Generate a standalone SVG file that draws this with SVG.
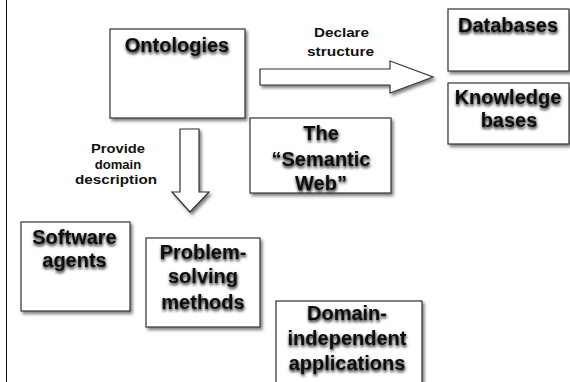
<svg xmlns="http://www.w3.org/2000/svg" width="570" height="382" viewBox="0 0 570 382">
<defs>
<filter id="bs" x="-10%" y="-10%" width="130%" height="130%">
<feDropShadow dx="2" dy="2.5" stdDeviation="1.6" flood-color="#000" flood-opacity="0.5"/>
</filter>
<filter id="ts" x="-10%" y="-30%" width="120%" height="170%">
<feDropShadow dx="0.5" dy="2" stdDeviation="1.5" flood-color="#000" flood-opacity="0.95"/>
</filter>
<style>
.box{fill:#fff;stroke:#333;stroke-width:1.2;filter:url(#bs)}
.arr{fill:#fff;stroke:#333;stroke-width:1.2;filter:url(#bs)}
.t{font-family:"Liberation Sans",Arial,sans-serif;font-weight:bold;font-size:20px;fill:#111;text-anchor:middle;filter:url(#ts)}
.s{font-family:"Liberation Sans",Arial,sans-serif;font-weight:bold;font-size:13px;fill:#111;text-anchor:middle}
</style>
</defs>
<rect width="570" height="382" fill="#fff"/>
<line x1="6.5" y1="0" x2="6.5" y2="382" stroke="#111" stroke-width="1"/>
<g id="connectors">
<g id="declare-structure">
<path class="arr" d="M260,69 L390,69 L390,61 L433,77 L390,93 L390,85 L260,85 Z"/>
<text class="s" x="341.5" y="37" textLength="55" lengthAdjust="spacingAndGlyphs">Declare</text>
<text class="s" x="340.5" y="56" textLength="67" lengthAdjust="spacingAndGlyphs">structure</text>
</g>
<g id="provide-domain">
<path class="arr" d="M180,129 L199,129 L199,192 L209,192 L190,212 L172,192 L180,192 Z"/>
<text class="s" x="118" y="153" textLength="54" lengthAdjust="spacingAndGlyphs">Provide</text>
<text class="s" x="118" y="168.5" textLength="46.5" lengthAdjust="spacingAndGlyphs">domain</text>
<text class="s" x="116" y="184" textLength="82" lengthAdjust="spacingAndGlyphs">description</text>
</g>
</g>
<g id="ontologies">
<rect class="box" x="110" y="29" width="135" height="89"/>
<text class="t" x="177" y="52">Ontologies</text>
</g>
<g id="databases">
<rect class="box" x="448" y="9" width="121" height="62"/>
<text class="t" x="508" y="32">Databases</text>
</g>
<g id="knowledge-bases">
<rect class="box" x="448" y="83" width="121" height="61"/>
<text class="t"><tspan x="508" y="104">Knowledge</tspan><tspan x="509" y="127">bases</tspan></text>
</g>
<g id="semantic-web">
<rect class="box" x="250" y="118" width="141" height="75"/>
<text class="t"><tspan x="321" y="140">The</tspan><tspan x="321" y="166">“Semantic</tspan><tspan x="321" y="190">Web”</tspan></text>
</g>
<g id="software-agents">
<rect class="box" x="21" y="222" width="109" height="89"/>
<text class="t"><tspan x="74.5" y="244">Software</tspan><tspan x="74.5" y="267">agents</tspan></text>
</g>
<g id="problem-solving">
<rect class="box" x="146" y="238" width="114" height="89"/>
<text class="t"><tspan x="203" y="259">Problem-</tspan><tspan x="203" y="283">solving</tspan><tspan x="203" y="309">methods</tspan></text>
</g>
<g id="domain-independent">
<rect class="box" x="276" y="301" width="146" height="95"/>
<text class="t"><tspan x="347" y="320">Domain-</tspan><tspan x="347" y="345">independent</tspan><tspan x="347" y="370">applications</tspan></text>
</g>
</svg>
